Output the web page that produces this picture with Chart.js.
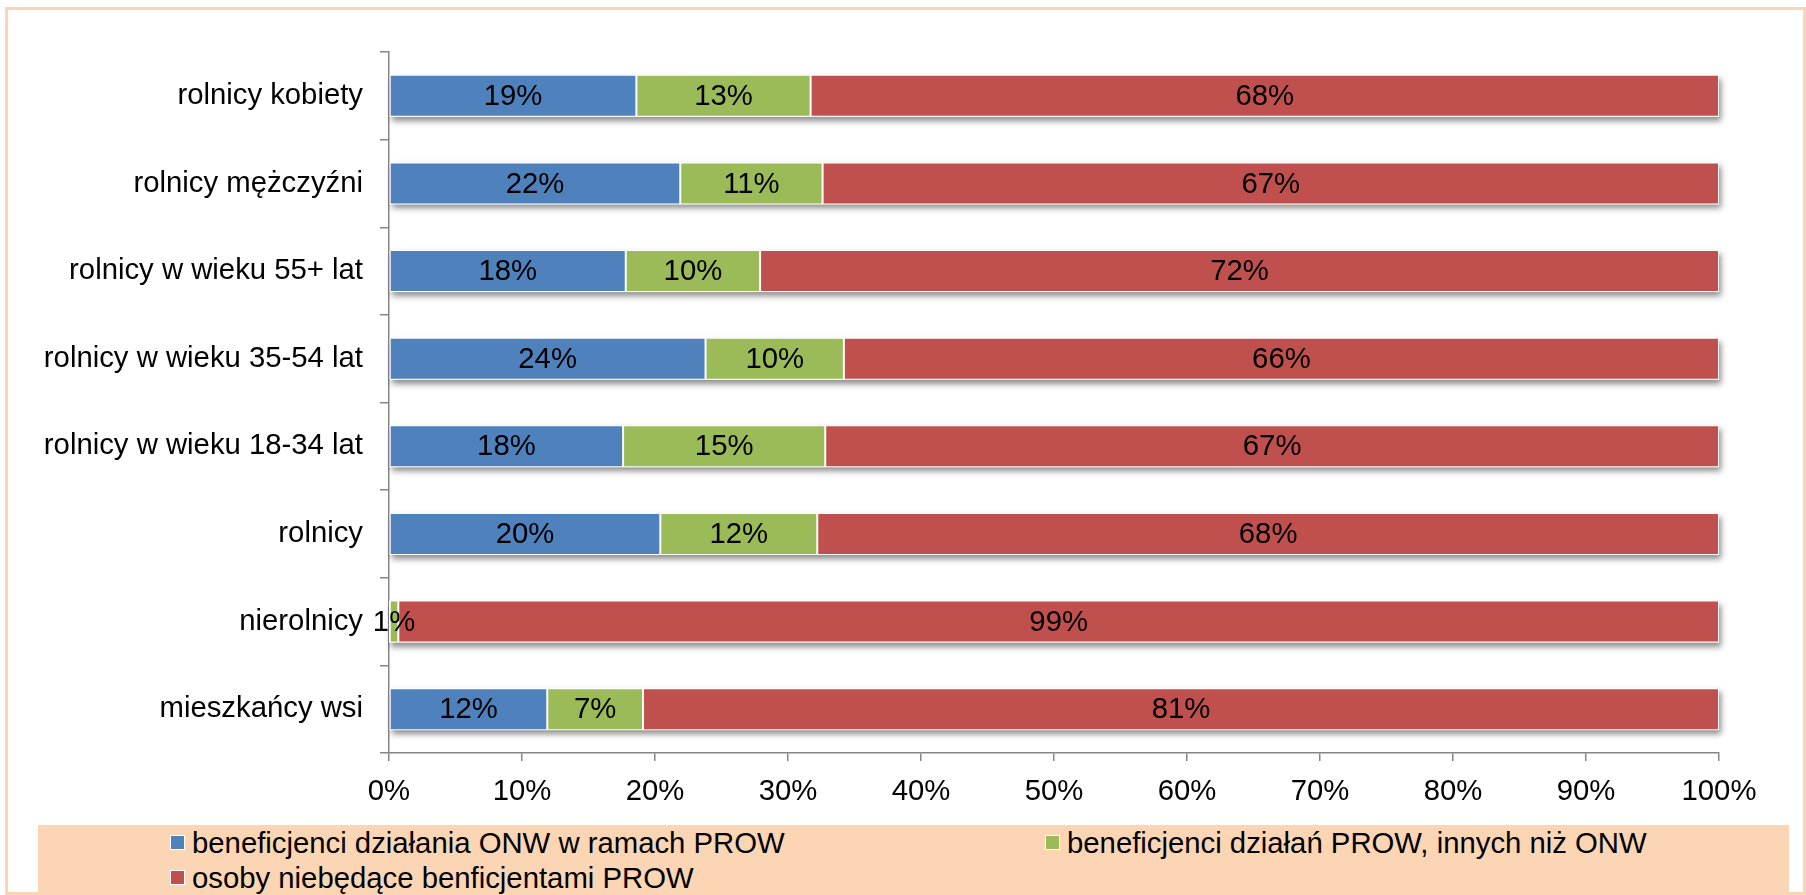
<!DOCTYPE html>
<html lang="pl">
<head>
<meta charset="UTF-8">
<title>Beneficjenci PROW</title>
<script src="https://cdn.jsdelivr.net/npm/chart.js@4.4.1/dist/chart.umd.min.js"></script>
<style>
  html, body { margin: 0; padding: 0; background: #fff; }
  body { width: 1806px; height: 895px; position: relative; overflow: hidden;
         font-family: "Liberation Sans", Arial, sans-serif; }
  .frame { position: absolute; left: 5px; top: 7px; right: 0; bottom: 0;
           border: 3px solid #fcd5b4; box-sizing: border-box; }
  .chart-box { position: absolute; left: 0; top: 0; width: 1806px; height: 825px; }
  #legend { position: absolute; left: 38px; top: 825px; width: 1751px; height: 68px;
            background: #fcd5b4; }
  .legend-item { position: absolute; display: flex; align-items: center;
                 font-size: 29.3px; color: #000; white-space: nowrap; line-height: 1; }
  .legend-item .sw { width: 13px; height: 13px; border: 1px solid #fff; margin-right: 7px; }
</style>
</head>
<body>
<div class="frame"></div>
<div class="chart-box"><canvas id="barChart" width="1806" height="825"></canvas></div>
<div id="legend"></div>

<script>
// --- DATA ---
const categories = [
  "rolnicy kobiety",
  "rolnicy mężczyźni",
  "rolnicy w wieku 55+ lat",
  "rolnicy w wieku 35-54 lat",
  "rolnicy w wieku 18-34 lat",
  "rolnicy",
  "nierolnicy",
  "mieszkańcy wsi"
];
const seriesNames = [
  "beneficjenci działania ONW w ramach PROW",
  "beneficjenci działań PROW, innych niż ONW",
  "osoby niebędące benficjentami PROW"
];
const onwValues = [18.6, 21.9, 17.8, 23.8, 17.6, 20.4, 0, 11.9];
const otherProwValues = [13.1, 10.7, 10.1, 10.4, 15.2, 11.8, 0.7, 7.2];
const nonBeneficiaryValues = [68.3, 67.4, 72.1, 65.8, 67.2, 67.8, 99.3, 80.9];
const xTicks = [0, 10, 20, 30, 40, 50, 60, 70, 80, 90, 100];

const seriesColors = ["#4f81bd", "#9bbb59", "#c0504d"];
const axisColor = "#868686";
const fontSize = 29.3;

document.addEventListener("DOMContentLoaded", () => {
  Chart.defaults.font.family = '"Liberation Sans", Arial, sans-serif';
  Chart.defaults.font.size = fontSize;
  Chart.defaults.color = "#000";

  // shadow under each whole stacked bar (Excel style)
  const barShadow = {
    id: "barShadow",
    beforeDatasetsDraw(chart) {
      const ctx = chart.ctx;
      const metas = chart.getSortedVisibleDatasetMetas();
      ctx.save();
      ctx.shadowColor = "rgba(0,0,0,0.45)";
      ctx.shadowBlur = 6;
      ctx.shadowOffsetX = 2;
      ctx.shadowOffsetY = 4;
      ctx.fillStyle = "#fff";
      categories.forEach((_, i) => {
        let left = Infinity, right = -Infinity, top = 0, h = 0;
        metas.forEach((m) => {
          const el = m.data[i];
          left = Math.min(left, el.base, el.x);
          right = Math.max(right, el.base, el.x);
          top = el.y - el.height / 2;
          h = el.height;
        });
        ctx.fillRect(left, top, right - left, h);
      });
      ctx.restore();
    }
  };

  // percentage labels in the middle of each segment
  const segmentLabels = {
    id: "segmentLabels",
    afterDatasetsDraw(chart) {
      const ctx = chart.ctx;
      ctx.save();
      ctx.font = fontSize + 'px "Liberation Sans", Arial, sans-serif';
      ctx.fillStyle = "#000";
      ctx.textAlign = "center";
      ctx.textBaseline = "middle";
      chart.getSortedVisibleDatasetMetas().forEach((m) => {
        const values = chart.data.datasets[m.index].data;
        m.data.forEach((el, i) => {
          if (values[i] < 0.5) return;
          ctx.fillText(Math.round(values[i]) + "%", (el.x + el.base) / 2, el.y + 1);
        });
      });
      ctx.restore();
    }
  };

  const valueSets = [onwValues, otherProwValues, nonBeneficiaryValues];

  const chart = new Chart(document.getElementById("barChart"), {
    type: "bar",
    data: {
      labels: categories,
      datasets: seriesNames.map((name, k) => ({
        label: name,
        data: valueSets[k],
        backgroundColor: seriesColors[k],
        borderColor: "#fff",
        borderWidth: 1,
        borderSkipped: false,
        categoryPercentage: 1,
        barPercentage: 0.48,
        clip: false
      }))
    },
    options: {
      indexAxis: "y",
      responsive: false,
      animation: false,
      layout: { padding: { left: 0, top: 52, right: 87, bottom: 0 } },
      plugins: {
        legend: { display: false },
        tooltip: { enabled: false }
      },
      scales: {
        x: {
          stacked: true,
          min: 0,
          max: 100,
          afterBuildTicks: (s) => { s.ticks = xTicks.map((v) => ({ value: v })); },
          ticks: { callback: (v) => v + "%", padding: 13 },
          grid: { drawOnChartArea: false, drawTicks: true, tickLength: 8, color: axisColor, lineWidth: 1.5 },
          border: { color: axisColor, width: 1.5 },
          afterFit: (s) => { s.height = 825 - 753; }
        },
        y: {
          stacked: true,
          ticks: { padding: 17 },
          grid: { drawOnChartArea: false, drawTicks: true, tickLength: 9, color: axisColor, lineWidth: 1.5 },
          border: { color: axisColor, width: 1.5 },
          afterFit: (s) => { s.width = 389; }
        }
      }
    },
    plugins: [barShadow, segmentLabels]
  });

  // --- LEGEND (two columns like the original) ---
  const legendBox = document.getElementById("legend");
  const slots = [[132, 18], [1007, 18], [132, 53]];
  chart.data.datasets.forEach((ds, k) => {
    const item = document.createElement("div");
    item.className = "legend-item";
    item.style.left = slots[k][0] + "px";
    item.style.top = slots[k][1] - 15 + "px";
    item.innerHTML = `<span class="sw" style="background:${ds.backgroundColor}"></span><span></span>`;
    item.lastChild.textContent = ds.label;
    legendBox.appendChild(item);
  });
});
</script>
</body>
</html>
